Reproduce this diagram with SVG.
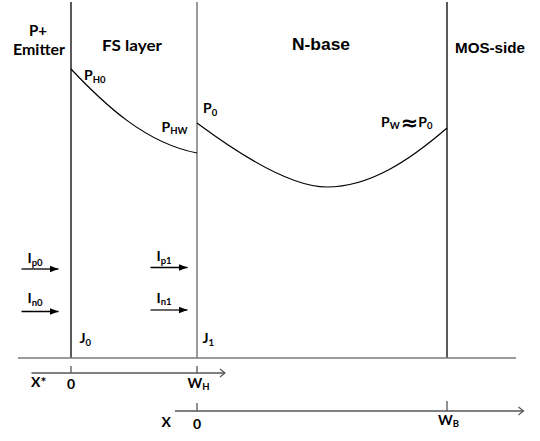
<svg xmlns="http://www.w3.org/2000/svg" width="540" height="441" viewBox="0 0 540 441">
<style>
.c{font-family:Lato,"Liberation Sans",sans-serif;font-weight:bold;fill:#000}
.a{font-family:"Liberation Sans",Arial,sans-serif;font-weight:bold;fill:#000}
.s{font-size:9.5px}
.ln{stroke:#000;stroke-width:1.3;fill:none}
.gr{stroke:#7a7a7a;stroke-width:1.5;fill:none}
.cv{stroke:#000;stroke-width:1.2;fill:none}
</style>
<defs>
<marker id="fa" markerWidth="10" markerHeight="8" refX="9" refY="4" orient="auto" markerUnits="userSpaceOnUse">
<path d="M0,0.5 L9,4 L0,7.5 Z" fill="#000"/>
</marker>
<marker id="oa" markerWidth="8" markerHeight="10" refX="6" refY="5" orient="auto" markerUnits="userSpaceOnUse">
<path d="M1,1 L6,5 L1,9" fill="none" stroke="#555" stroke-width="1.2"/>
</marker>
</defs>

<g id="regions">
<line class="ln" x1="71" y1="2" x2="71" y2="358"/>
<line class="gr" x1="197" y1="2" x2="197" y2="358"/>
<line class="ln" x1="447" y1="2" x2="447" y2="358"/>
<line class="gr" x1="18" y1="358" x2="516" y2="358"/>
</g>

<g id="labels">
<text class="c" x="38" y="36" font-size="15" text-anchor="middle">P+</text>
<text class="c" x="39" y="54.5" font-size="15" text-anchor="middle" textLength="52" lengthAdjust="spacingAndGlyphs">Emitter</text>
<text class="c" x="132" y="50.5" font-size="16" text-anchor="middle" textLength="60" lengthAdjust="spacingAndGlyphs">FS layer</text>
<text class="a" x="321" y="50" font-size="17" text-anchor="middle" textLength="58" lengthAdjust="spacingAndGlyphs">N-base</text>
<text class="a" x="490" y="53" font-size="15" text-anchor="middle" textLength="70" lengthAdjust="spacingAndGlyphs">MOS-side</text>
</g>

<g id="curves">
<path class="cv" d="M71,69 C104,104 145,143 197,153"/>
<path class="cv" d="M197,123 C240,155 290,187 327,187 C370,187 410,160 447,128"/>
</g>

<g id="p-labels">
<text class="c" x="84" y="80" font-size="14">P<tspan class="s" dy="2.5">H0</tspan></text>
<text class="c" x="161.5" y="131.5" font-size="14">P<tspan class="s" dy="2.5">HW</tspan></text>
<text class="c" x="203" y="113" font-size="14">P<tspan class="s" dy="2.5">0</tspan></text>
<text class="c" x="381" y="126.5" font-size="14">P<tspan class="s" dy="2.5">W</tspan><tspan dy="1" dx="1" font-size="21" font-family="'DejaVu Sans',sans-serif">≈</tspan><tspan dy="-3.5" dx="0">P</tspan><tspan class="s" dy="2.5">0</tspan></text>
</g>

<g id="currents">
<text class="c" x="27.5" y="263" font-size="14">I<tspan class="s" dy="2.5">p0</tspan></text>
<text class="c" x="27.5" y="303" font-size="14">I<tspan class="s" dy="2.5">n0</tspan></text>
<text class="c" x="156.5" y="261" font-size="14">I<tspan class="s" dy="2.5">p1</tspan></text>
<text class="c" x="156.5" y="302.5" font-size="14">I<tspan class="s" dy="2.5">n1</tspan></text>
<text class="c" x="79.5" y="343" font-size="14">J<tspan class="s" dy="2.5">0</tspan></text>
<text class="c" x="202.5" y="343" font-size="14">J<tspan class="s" dy="2.5">1</tspan></text>
</g>

<g id="connectors">
<line x1="21.5" y1="269" x2="58.5" y2="269" stroke="#222" stroke-width="1.3" marker-end="url(#fa)"/>
<line x1="21.5" y1="311.5" x2="58.5" y2="311.5" stroke="#000" stroke-width="1.3" marker-end="url(#fa)"/>
<line x1="150.5" y1="267.5" x2="187.5" y2="267.5" stroke="#000" stroke-width="1.3" marker-end="url(#fa)"/>
<line x1="150.5" y1="310" x2="187.5" y2="310" stroke="#333" stroke-width="1.3" marker-end="url(#fa)"/>
</g>

<g id="axes">
<line x1="31.5" y1="373" x2="225" y2="373" stroke="#555" stroke-width="1.3" marker-end="url(#oa)"/>
<line x1="71" y1="366" x2="71" y2="373" stroke="#555" stroke-width="1.3"/>
<line x1="197" y1="366" x2="197" y2="373" stroke="#555" stroke-width="1.3"/>
<line x1="175" y1="411" x2="523.5" y2="411" stroke="#555" stroke-width="1.3" marker-end="url(#oa)"/>
<line x1="197" y1="403" x2="197" y2="411" stroke="#555" stroke-width="1.3"/>
<line x1="447" y1="401" x2="447" y2="411" stroke="#555" stroke-width="1.3"/>
<text class="c" x="31" y="387" font-size="14">X*</text>
<text class="c" x="71" y="389" font-size="14" text-anchor="middle">0</text>
<text class="c" x="187.5" y="388" font-size="14">W<tspan class="s" dy="1.5">H</tspan></text>
<text class="c" x="161.5" y="427" font-size="14">X</text>
<text class="c" x="197" y="429" font-size="14" text-anchor="middle">0</text>
<text class="c" x="438" y="425" font-size="14">W<tspan class="s" dy="1.5">B</tspan></text>
</g>
</svg>
